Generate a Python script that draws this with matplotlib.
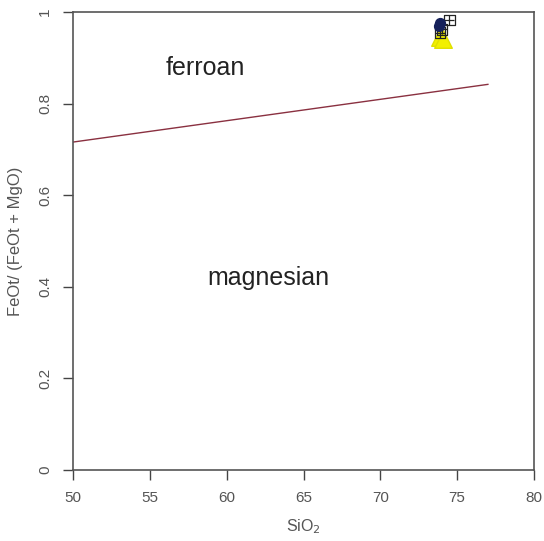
import matplotlib
matplotlib.use("Agg")
import matplotlib.pyplot as plt

# Boundary line ferroan / magnesian
line_x = [50, 77]
line_y = [0.716, 0.842]

# Samples
circle_x = [73.9, 73.8]
circle_y = [0.975, 0.97]
square_x = [74.5, 74.0, 73.9]
square_y = [0.982, 0.962, 0.955]
tri_x = [73.9, 74.1]
tri_y = [0.945, 0.942]

x_ticks = [50, 55, 60, 65, 70, 75, 80]
y_ticks = [0, 0.2, 0.4, 0.6, 0.8, 1]
y_tick_labels = ["0", "0.2", "0.4", "0.6", "0.8", "1"]

plt.rcParams['font.family'] = ['Liberation Sans', 'DejaVu Sans']

fig = plt.figure(figsize=(5.44, 5.41), dpi=100)
ax = fig.add_axes([73/544, 1 - 470/541, (534-73)/544, (470-12)/541])

ax.plot(line_x, line_y, color='#8a3040', lw=1.0)
ax.scatter(tri_x, tri_y, marker='^', s=160, facecolor='#f2f000', edgecolor='#e0e000', zorder=3)
ax.scatter(square_x, square_y, marker='s', s=55, facecolor='none', edgecolor='#222222', lw=0.9, zorder=4)
ax.scatter(square_x, square_y, marker='+', s=55, color='#222222', lw=0.9, zorder=4)
ax.scatter(circle_x, circle_y, marker='o', s=50, facecolor='#15205a', edgecolor='#15205a', zorder=5)

ax.text(58.6, 0.878, "ferroan", fontsize=18, ha='center', va='center', color='#222222')
ax.text(62.7, 0.42, "magnesian", fontsize=18, ha='center', va='center', color='#222222')

ax.set_xlim(50, 80)
ax.set_ylim(0, 1)
ax.set_xticks(x_ticks)
ax.set_yticks(y_ticks)
ax.set_yticklabels(y_tick_labels, rotation=90, va='center')
ax.tick_params(direction='out', length=7, width=1.0, color='#444444', labelsize=11, labelcolor='#555555', pad=8)
for s in ax.spines.values():
    s.set_color('#555555')
    s.set_linewidth(1.2)

ax.set_xlabel("SiO$_2$", fontsize=11.5, color='#555555', labelpad=9)
ax.set_ylabel("FeOt/ (FeOt + MgO)", fontsize=12, color='#555555', labelpad=11)

fig.savefig("out.png", dpi=100)
